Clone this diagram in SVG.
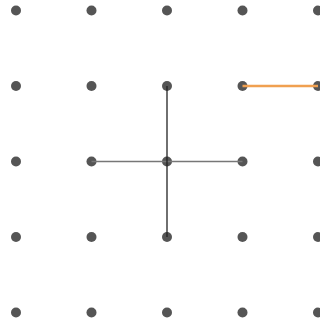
<svg xmlns="http://www.w3.org/2000/svg" width="320" height="326" viewBox="0 0 320 326">
<style>
.dot{fill:#555555}
</style>
<rect width="320" height="326" fill="#ffffff"/>
<g id="nodes">
<g id="r0"><circle class="dot" cx="16" cy="10.5" r="5"/><circle class="dot" cx="91.5" cy="10.5" r="5"/><circle class="dot" cx="167" cy="10.5" r="5"/><circle class="dot" cx="242.5" cy="10.5" r="5"/><circle class="dot" cx="318" cy="10.5" r="5"/></g>
<g id="r1"><circle class="dot" cx="16" cy="86" r="5"/><circle class="dot" cx="91.5" cy="86" r="5"/><circle class="dot" cx="167" cy="86" r="5"/><circle class="dot" cx="242.5" cy="86" r="5"/><circle class="dot" cx="318" cy="86" r="5"/></g>
<g id="r2"><circle class="dot" cx="16" cy="161.5" r="5"/><circle class="dot" cx="91.5" cy="161.5" r="5"/><circle class="dot" cx="167" cy="161.5" r="5"/><circle class="dot" cx="242.5" cy="161.5" r="5"/><circle class="dot" cx="318" cy="161.5" r="5"/></g>
<g id="r3"><circle class="dot" cx="16" cy="237" r="5"/><circle class="dot" cx="91.5" cy="237" r="5"/><circle class="dot" cx="167" cy="237" r="5"/><circle class="dot" cx="242.5" cy="237" r="5"/><circle class="dot" cx="318" cy="237" r="5"/></g>
<g id="r4"><circle class="dot" cx="16" cy="312.5" r="5"/><circle class="dot" cx="91.5" cy="312.5" r="5"/><circle class="dot" cx="167" cy="312.5" r="5"/><circle class="dot" cx="242.5" cy="312.5" r="5"/><circle class="dot" cx="318" cy="312.5" r="5"/></g>
</g>
<g id="connectors">
<line x1="91.5" y1="161.5" x2="242.5" y2="161.5" stroke="#777777" stroke-width="1.5"/>
<line x1="167" y1="86" x2="167" y2="237" stroke="#222222" stroke-width="1.3"/>
<line x1="242.5" y1="86" x2="318" y2="86" stroke="#f0a050" stroke-width="2.5"/>
</g>
</svg>
